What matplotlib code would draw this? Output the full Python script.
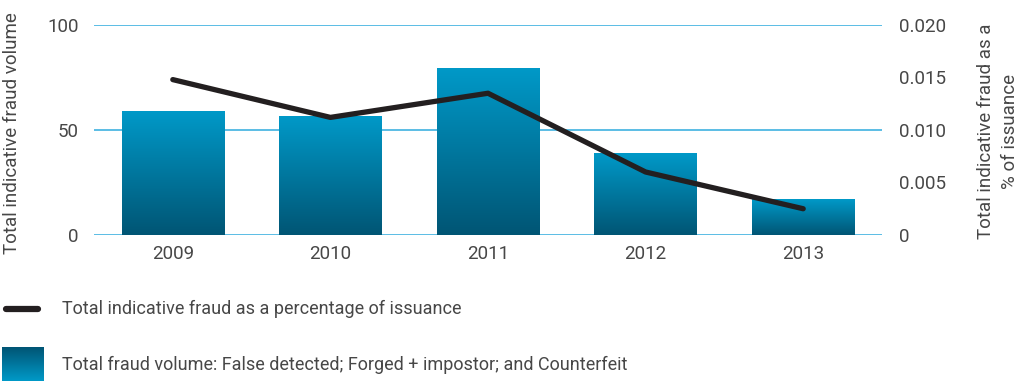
import numpy as np
import matplotlib.pyplot as plt
from matplotlib.colors import LinearSegmentedColormap
from matplotlib.lines import Line2D

plt.rcParams['font.family'] = ['Roboto', 'DejaVu Sans']

years = ['2009', '2010', '2011', '2012', '2013']
fraud_volume = [59, 56.5, 79.5, 38.8, 17]
fraud_pct = [0.0148, 0.0112, 0.0135, 0.0060, 0.0025]

TXT = '#474747'
GRID = '#3fb2e0'
grad = LinearSegmentedColormap.from_list('bar', ['#005574', '#0099c8'])

fig = plt.figure(figsize=(10.24, 3.82), dpi=100)
ax = fig.add_axes([94/1024, 1-235/382, 788/1024, 210/382])
x = np.arange(len(years))

bars = ax.bar(x, fraud_volume, 0.65, color='none', zorder=2)
g = np.linspace(0, 1, 256).reshape(-1, 1)
for b in bars:
    x0, w, h = b.get_x(), b.get_width(), b.get_height()
    ax.imshow(g, extent=[x0, x0 + w, 0, h], origin='lower', aspect='auto',
              cmap=grad, zorder=2)

ax.set_xlim(-0.5, 4.5)
ax.set_ylim(0, 100)
ax.set_yticks([0, 50, 100])
ax.set_xticks(x)
ax.set_xticklabels(years)
ax.grid(axis='y', color=GRID, lw=1.2, zorder=0)
ax.set_axisbelow(True)
for s in ax.spines.values():
    s.set_visible(False)
ax.tick_params(length=0, labelsize=13.5, labelcolor=TXT)
ax.tick_params(axis='y', pad=11)
ax.tick_params(axis='x', pad=7)

ax2 = ax.twinx()
ax2.plot(x, fraud_pct, color='#231f20', lw=3.8, solid_capstyle='round',
         solid_joinstyle='round', zorder=4)
ax2.set_ylim(0, 0.02)
ax2.set_yticks([0, 0.005, 0.010, 0.015, 0.020])
ax2.set_yticklabels(['0', '0.005', '0.010', '0.015', '0.020'])
for s in ax2.spines.values():
    s.set_visible(False)
ax2.tick_params(length=0, labelsize=13.5, labelcolor=TXT, pad=12)

fig.text(12/1024, 1-133/382, 'Total indicative fraud volume', rotation=90,
         ha='center', va='center', fontsize=13.5, color=TXT)
fig.text(998/1024, 1-131/382, 'Total indicative fraud as a\n% of issuance',
         rotation=90, ha='center', va='center', fontsize=13.5, color=TXT,
         multialignment='center', linespacing=1.45)

# legend drawn by hand
fig.add_artist(Line2D([6/1024, 38/1024], [1-309/382, 1-309/382],
                      transform=fig.transFigure, color='#231f20', lw=4.5,
                      solid_capstyle='round'))
fig.text(62/1024, 1-309/382, 'Total indicative fraud as a percentage of issuance',
         va='center', fontsize=13, color=TXT)
lax = fig.add_axes([2/1024, 1-381/382, 42/1024, 34/382])
lax.imshow(g[::-1], aspect='auto', cmap=grad, origin='lower')
lax.axis('off')
fig.text(62/1024, 1-365/382,
         'Total fraud volume: False detected; Forged + impostor; and Counterfeit',
         va='center', fontsize=13, color=TXT)

fig.savefig('out.png', dpi=100)
